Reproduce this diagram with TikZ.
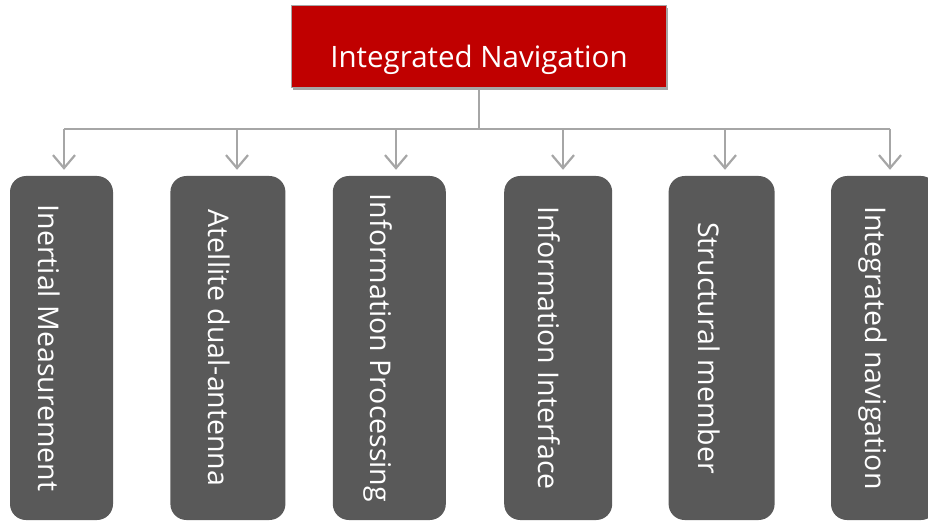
\documentclass[tikz,border=0pt]{standalone}
\usepackage{fontspec}
\setmainfont{Open Sans}
\usetikzlibrary{arrows.meta,positioning}
\definecolor{navred}{HTML}{C00000}
\definecolor{boxgray}{HTML}{595959}
\definecolor{linegray}{HTML}{A6A6A6}
\tikzstyle{Top} = [fill=navred, draw=linegray, line width=1.5pt, minimum width=375pt, minimum height=82pt, inner sep=0pt]
\tikzstyle{Shadow} = [fill=linegray, minimum width=375pt, minimum height=82pt, inner sep=0pt]
\tikzstyle{Module} = [fill=boxgray, rounded corners=16pt, minimum height=344pt, inner sep=0pt]
\tikzstyle{Label} = [text=white, rotate=-90, anchor=base, inner sep=0pt, font=\fontsize{28.5}{32}\selectfont]
\tikzstyle{Title} = [text=white, font=\fontsize{29.5}{34}\selectfont]
\tikzstyle{Link} = [draw=linegray, line width=2.2pt]
\tikzstyle{Arrow} = [Link, -{Straight Barb[length=13pt,width=22pt]}, shorten >=6pt]

\begin{document}
\begin{tikzpicture}[x=1pt,y=-1pt]
    \useasboundingbox (0,0) rectangle (928,521);
    \node[Shadow]                                          at (480,49)   {};
    \node[Top]    (top)                                    at (479,46.5) {};
    \node[Title]  (title)                                  at ([yshift=-13pt]top.center) {Integrated Navigation};
    \node[Module, minimum width=103pt] (m_inertial)        at (61.5,348) {};
    \node[Module, minimum width=115pt] (m_antenna)   [right=57pt of m_inertial] {};
    \node[Module, minimum width=113pt] (m_processing)[right=47pt of m_antenna]  {};
    \node[Module, minimum width=108pt] (m_interface) [right=58pt of m_processing] {};
    \node[Module, minimum width=106pt] (m_structure) [right=56pt of m_interface] {};
    \node[Module, minimum width=106pt] (m_integrated)[right=56pt of m_structure] {};
    \node[Label]  (l_inertial)   at ([xshift=-23.5pt]m_inertial.center)   {Inertial Measurement};
    \node[Label]  (l_antenna)    at ([xshift=-19.5pt]m_antenna.center)    {Atellite dual-antenna};
    \node[Label]  (l_processing) at ([xshift=-18.5pt]m_processing.center) {Information Processing};
    \node[Label]  (l_interface)  at ([xshift=-20pt]m_interface.center)    {Information Interface};
    \node[Label]  (l_structure)  at ([xshift=-23pt]m_structure.center)    {Structural member};
    \node[Label]  (l_integrated) at ([xshift=-19pt]m_integrated.center)   {Integrated navigation};
    \coordinate (b_inertial)   at (64,129);
    \coordinate (b_antenna)    at (237,129);
    \coordinate (b_processing) at (396,129);
    \coordinate (b_interface)  at (563,129);
    \coordinate (b_structure)  at (725,129);
    \coordinate (b_integrated) at (890,129);
    \draw[Link]  (top.south)    -- (top.south |- b_inertial);
    \draw[Link]  (b_inertial)   -- (b_integrated);
    \draw[Arrow] (b_inertial)   -- (b_inertial |- m_inertial.north);
    \draw[Arrow] (b_antenna)    -- (b_antenna |- m_antenna.north);
    \draw[Arrow] (b_processing) -- (b_processing |- m_processing.north);
    \draw[Arrow] (b_interface)  -- (b_interface |- m_interface.north);
    \draw[Arrow] (b_structure)  -- (b_structure |- m_structure.north);
    \draw[Arrow] (b_integrated) -- (b_integrated |- m_integrated.north);
  \end{tikzpicture}
\end{document}
